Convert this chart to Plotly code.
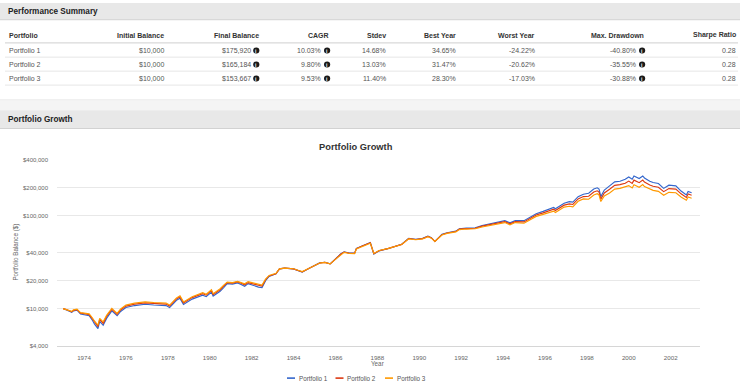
import plotly.graph_objects as go

# ---------------- data ----------------
dates = [
    "1973-01-01", "1973-03-01", "1973-06-01", "1973-07-01", "1973-09-01", "1973-11-01",
    "1974-02-01", "1974-04-01", "1974-06-01", "1974-07-01", "1974-09-01", "1974-10-01",
    "1974-12-01", "1975-02-01", "1975-05-01", "1975-08-01", "1975-10-01", "1976-01-01",
    "1976-06-01", "1976-12-01", "1977-05-01", "1977-12-01", "1978-02-01", "1978-06-01",
    "1978-08-01", "1978-10-01", "1979-03-01", "1979-09-01", "1979-11-01", "1980-02-01",
    "1980-03-01", "1980-07-01", "1980-09-01", "1980-11-01", "1981-02-01", "1981-05-01",
    "1981-07-01", "1981-09-01", "1981-11-01", "1982-02-01", "1982-05-01", "1982-07-01",
    "1982-09-01", "1982-11-01", "1983-03-01", "1983-05-01", "1983-08-01", "1984-01-01",
    "1984-04-01", "1984-06-01", "1984-10-01", "1985-01-01", "1985-04-01", "1985-07-01",
    "1985-10-01", "1986-01-01", "1986-04-01", "1986-06-01", "1986-09-01", "1986-12-01",
    "1987-01-01", "1987-04-01", "1987-07-01", "1987-09-01", "1987-11-01", "1988-02-01",
    "1988-07-01", "1988-11-01", "1989-03-01", "1989-07-01", "1989-11-01", "1990-03-01",
    "1990-06-01", "1990-08-01", "1990-10-01", "1991-02-01", "1991-05-01", "1991-10-01",
    "1991-12-01", "1992-04-01", "1992-09-01", "1993-01-01", "1993-06-01", "1993-12-01",
    "1994-02-01", "1994-05-01", "1994-08-01", "1995-01-01", "1995-04-01", "1995-08-01",
    "1995-12-01", "1996-04-01", "1996-06-01", "1996-07-01", "1996-12-01", "1997-03-01",
    "1997-05-01", "1997-08-01", "1997-11-01", "1998-02-01", "1998-05-01", "1998-07-01",
    "1998-08-01", "1998-09-01", "1998-11-01", "1999-02-01", "1999-05-01", "1999-08-01",
    "1999-11-01", "2000-01-01", "2000-03-01", "2000-04-01", "2000-07-01", "2000-09-01",
    "2000-10-01", "2001-01-01", "2001-03-01", "2001-06-01", "2001-09-01", "2001-12-01",
    "2002-04-01", "2002-07-01", "2002-10-01", "2002-11-01", "2003-01-01",
]

portfolio_1 = [
    10000, 9690, 9100, 9460, 9620, 8730, 8570, 8370, 7410, 6840, 6100, 7300,
    6610, 7900, 9460, 8370, 9310, 10260, 10780, 11120, 10940, 10780, 10260, 12270,
    12880, 11100, 12650, 13960, 13430, 15020, 13630, 15380, 16830, 18560, 18340, 18880,
    18110, 17380, 18560, 17680, 17030, 16830, 19950, 22160, 23660, 26730, 27200, 26730,
    25460, 24660, 27080, 28990, 30960, 31480, 30210, 34120, 38550, 40780, 39460, 39460,
    44330, 46880, 49180, 51280, 38550, 41740, 44050, 46450, 49180, 57000, 55600, 56900,
    60200, 57900, 52600, 62800, 65400, 68000, 72100, 73200, 73900, 78200, 81500, 85500,
    88200, 83500, 88200, 88200, 94200, 104600, 110800, 118200, 122100, 118200, 135800, 141200,
    139200, 159700, 169200, 173400, 192600, 198600, 192600, 159700, 187900, 208600, 230000, 233900,
    245500, 259900, 245500, 266200, 249800, 266200, 253600, 233900, 226500, 221300, 195900, 212300,
    208600, 183300, 166300, 181300, 175920,
]

portfolio_2 = [
    10000, 9760, 9210, 9576, 9740, 8946, 8782, 8577, 7686, 7181, 6404, 7664,
    6940, 8294, 9812, 8681, 9656, 10640, 11180, 11530, 11350, 11180, 10640, 12730,
    13360, 11510, 13120, 14480, 13930, 15580, 14140, 15950, 17460, 19020, 18790, 19350,
    18780, 18030, 19020, 18340, 17660, 17460, 20440, 22430, 23660, 26730, 27200, 26700,
    25500, 24750, 27080, 28950, 30900, 31420, 30200, 34000, 38350, 40550, 39300, 39300,
    44150, 46700, 48950, 51000, 38900, 41900, 44100, 46350, 49000, 56700, 55300, 56550,
    59750, 57550, 52600, 62350, 64900, 67400, 71450, 72500, 73100, 76880, 80120, 83440,
    86080, 81490, 86080, 85450, 91260, 101340, 106820, 113130, 116860, 113130, 129340, 133510,
    131620, 151000, 159980, 161190, 179040, 184610, 179040, 150270, 174670, 191570, 211220, 214800,
    222740, 234650, 221650, 240340, 225530, 240340, 228960, 213240, 206490, 201750, 180780, 194960,
    192500, 171220, 156480, 170170, 165184,
]

portfolio_3 = [
    10000, 9800, 9325, 9694, 9860, 9055, 8889, 8788, 7875, 7358, 6643, 7853,
    7198, 8499, 10050, 8895, 9894, 10900, 11460, 11820, 11630, 11460, 10900, 13040,
    13690, 11800, 13440, 14840, 14270, 15960, 14490, 16350, 17890, 19250, 19020, 19580,
    19020, 18470, 19490, 18790, 18100, 17890, 20690, 22710, 23950, 26730, 27200, 26800,
    25700, 24960, 27150, 28990, 30850, 31350, 30250, 33850, 38100, 40250, 39100, 39050,
    43750, 46200, 48350, 50300, 39200, 42050, 44150, 46250, 48800, 56200, 54900, 56100,
    59200, 57100, 52700, 61800, 64300, 66700, 70700, 71600, 72100, 75390, 78580, 81430,
    84010, 79530, 84010, 82590, 88210, 97950, 103000, 108020, 111580, 108020, 123210, 125950,
    124160, 142450, 150920, 149870, 166470, 171650, 166470, 141410, 162400, 174690, 192610, 195880,
    202120, 209810, 198180, 214900, 201660, 214900, 204720, 192570, 186480, 182200, 165220, 177790,
    175930, 158430, 146150, 158200, 153667,
]

series_names = ["Portfolio 1", "Portfolio 2", "Portfolio 3"]
series_values = [portfolio_1, portfolio_2, portfolio_3]

# summary table
table_columns = ["Portfolio", "Initial Balance", "Final Balance", "CAGR", "Stdev",
                 "Best Year", "Worst Year", "Max. Drawdown", "Sharpe Ratio"]
initial_balance = ["$10,000", "$10,000", "$10,000"]
final_balance = ["$175,920", "$165,184", "$153,667"]
cagr = ["10.03%", "9.80%", "9.53%"]
stdev = ["14.68%", "13.03%", "11.40%"]
best_year = ["34.65%", "31.47%", "28.30%"]
worst_year = ["-24.22%", "-20.62%", "-17.03%"]
max_drawdown = ["-40.80%", "-35.55%", "-30.88%"]
sharpe_ratio = ["0.28", "0.28", "0.28"]

y_tick_values = [4000, 10000, 20000, 40000, 100000, 200000, 400000]
y_tick_labels = ["$4,000", "$10,000", "$20,000", "$40,000", "$100,000", "$200,000", "$400,000"]

# ---------------- styling / layout helpers ----------------
FONT = "Liberation Sans, Arial, Helvetica, sans-serif"
W, H = 740, 388
COLORS = ["#3366CC", "#DC3912", "#FF9900"]


def X(p):
    return p / W


def Y(p):
    return 1 - p / H


shapes = []
annotations = []


def rect(x0, y0, x1, y1, fill):
    shapes.append(dict(type="rect", xref="paper", yref="paper", x0=X(x0), x1=X(x1),
                       y0=Y(y1), y1=Y(y0), fillcolor=fill, line=dict(width=0), layer="below"))


def hline(y, x0, x1, color, width=1, layer="below"):
    shapes.append(dict(type="line", xref="paper", yref="paper", x0=X(x0), x1=X(x1),
                       y0=Y(y), y1=Y(y), line=dict(color=color, width=width), layer=layer))


def text(x, y, s, size=7, color="#333", bold=False, anchor="left", angle=0):
    annotations.append(dict(xref="paper", yref="paper", x=X(x), y=Y(y),
                            text=f"<b>{s}</b>" if bold else s, showarrow=False,
                            xanchor=anchor, yanchor="middle", borderpad=0,
                            font=dict(family=FONT, size=size, color=color), textangle=angle))


def info_icon(cx, cy, r=3.1):
    shapes.append(dict(type="circle", xref="paper", yref="paper", x0=X(cx - r), x1=X(cx + r),
                       y0=Y(cy + r), y1=Y(cy - r), fillcolor="#1a1a1a", line=dict(width=0),
                       layer="above"))
    text(cx, cy + 0.2, "i", size=5, color="#ffffff", bold=True, anchor="center")


# section 1 header bar
rect(0, 0, 740, 17, "#e8e8e8")
hline(17, 0, 740, "#d2d2d2")
text(7, 8.5, "Performance Summary", size=8.2, color="#222", bold=True)

# table
header_y = 33
row_ys = [48.3, 62.5, 76.7]
hline(40.5, 5, 738, "#d9d9d9", 1.2)
for ly in [55, 69.2, 83.4]:
    hline(ly, 5, 738, "#e6e6e6", 1)

text(8, header_y, table_columns[0], bold=True)
for i, nm in enumerate(series_names):
    text(8, row_ys[i], nm, color="#555")

col_specs = [
    (table_columns[1], 164.5, initial_balance, False),
    (table_columns[2], 259.5, final_balance, True),
    (table_columns[3], 330.3, cagr, True),
    (table_columns[4], 386.5, stdev, False),
    (table_columns[5], 457.3, best_year, False),
    (table_columns[6], 536.3, worst_year, False),
    (table_columns[7], 645.3, max_drawdown, True),
    (table_columns[8], 737, sharpe_ratio, False),
]
for title, right, vals, icon in col_specs:
    text(right, header_y, title, bold=True, anchor="right")
    for i, v in enumerate(vals):
        if icon:
            text(right - 8, row_ys[i], v, color="#555", anchor="right")
            info_icon(right - 3.2, row_ys[i])
        else:
            text(right, row_ys[i], v, color="#555", anchor="right")

# gap + section 2 header bar
hline(98.5, 0, 740, "#e2e2e2")
rect(0, 99, 740, 109, "#f4f4f4")
rect(0, 109, 740, 127.5, "#e8e8e8")
hline(127.5, 0, 740, "#d2d2d2")
text(7, 118.5, "Portfolio Growth", size=8.2, color="#222", bold=True)

# chart title and axis titles
text(355.5, 146, "Portfolio Growth", size=9.3, color="#333", bold=True, anchor="center")
text(16, 253.5, "Portfolio Balance ($)", size=6.3, color="#666", anchor="center", angle=-90)
text(377, 366, "Year", size=6.3, color="#666", anchor="center")

# custom compact legend
legend_pos = [(287, 297.5), (335.5, 346), (385, 395.5)]
for (lx, tx), nm, c in zip(legend_pos, series_names, COLORS):
    hline(381, lx, lx + 8, c, 1.6, layer="above")
    text(tx, 381, nm, size=6.3, color="#555")

fig = go.Figure()
for nm, vals, c in zip(series_names, series_values, COLORS):
    fig.add_trace(go.Scatter(x=dates, y=vals, mode="lines", name=nm,
                             line=dict(color=c, width=1.15), showlegend=False,
                             hovertemplate="%{x|%b %Y}: $%{y:,.0f}<extra>" + nm + "</extra>"))

fig.update_layout(
    width=W, height=H, autosize=False,
    margin=dict(l=0, r=0, t=0, b=0, pad=0),
    paper_bgcolor="#ffffff", plot_bgcolor="#ffffff",
    font=dict(family=FONT, size=7, color="#333"),
    shapes=shapes, annotations=annotations,
    showlegend=False,
    xaxis=dict(
        domain=[X(57), X(700)], type="date",
        range=["1972-09-17", "2003-05-27"],
        tick0="1974-01-01", dtick="M24", tickformat="%Y",
        showgrid=False, zeroline=False, showline=True, linecolor="#d6d6d6", linewidth=1,
        ticks="", tickfont=dict(family=FONT, size=6.2, color="#666"), ticklabelstandoff=6,
    ),
    yaxis=dict(
        domain=[Y(348), Y(159)], type="log",
        range=[3.60206, 5.60206],
        tickvals=y_tick_values, ticktext=y_tick_labels,
        showgrid=True, gridcolor="#e8e8e8", gridwidth=1, zeroline=False, showline=False,
        ticks="", tickfont=dict(family=FONT, size=6.0, color="#666"), ticklabelstandoff=8,
    ),
)

# remove the browser's default page margin so the figure sits at the window's top-left
fig.write_html(
    "out.html",
    config={"displayModeBar": False},
    post_script="document.body.style.margin='0';document.body.style.overflow='hidden';",
)
